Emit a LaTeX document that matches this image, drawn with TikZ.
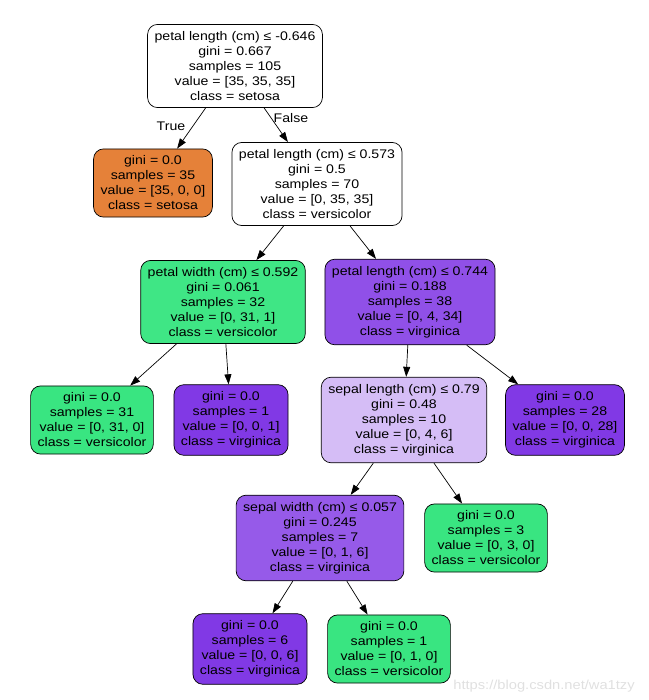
\documentclass[tikz,border=0pt]{standalone}
\usepackage{fontspec}
\setmainfont{Liberation Sans}[FakeStretch=1.13]
\usetikzlibrary{arrows.meta}
\definecolor{setosa}{HTML}{E58139}
\definecolor{versicolor}{HTML}{39E581}
\definecolor{virginica}{HTML}{8139E5}
\definecolor{versicolorA}{HTML}{3FE685}
\definecolor{virginicaA}{HTML}{9050E8}
\definecolor{virginicaB}{HTML}{D5BDF6}
\definecolor{virginicaC}{HTML}{965AE9}
\begin{document}
\begin{tikzpicture}[x=1pt,y=-1pt,
	treenode/.style={draw=black,line width=0.7pt,rounded corners=10pt,align=center,
		font=\fontsize{12.5}{15}\selectfont,inner xsep=7pt,inner ysep=7pt},
	treeedge/.style={-{Triangle[length=10pt,width=7pt]},black,line width=0.7pt},
	edgelabel/.style={font=\fontsize{12.5}{15}\selectfont}]
	\useasboundingbox (0,0) rectangle (648,700);
	\node[treenode,fill=white] (n0) at (235,66) {petal length (cm) ≤ -0.646\\gini = 0.667\\samples = 105\\value = [35, 35, 35]\\class = setosa};
	\node[treenode,fill=setosa] (n1) at (153,183) {gini = 0.0\\samples = 35\\value = [35, 0, 0]\\class = setosa};
	\node[treenode,fill=white] (n2) at (317,184) {petal length (cm) ≤ 0.573\\gini = 0.5\\samples = 70\\value = [0, 35, 35]\\class = versicolor};
	\node[treenode,fill=versicolorA] (n3) at (223,302) {petal width (cm) ≤ 0.592\\gini = 0.061\\samples = 32\\value = [0, 31, 1]\\class = versicolor};
	\node[treenode,fill=virginicaA] (n4) at (410,302) {petal length (cm) ≤ 0.744\\gini = 0.188\\samples = 38\\value = [0, 4, 34]\\class = virginica};
	\node[treenode,fill=versicolor] (n5) at (92,420) {gini = 0.0\\samples = 31\\value = [0, 31, 0]\\class = versicolor};
	\node[treenode,fill=virginica] (n6) at (231,420) {gini = 0.0\\samples = 1\\value = [0, 0, 1]\\class = virginica};
	\node[treenode,fill=virginicaB] (n7) at (404,420) {sepal length (cm) ≤ 0.79\\gini = 0.48\\samples = 10\\value = [0, 4, 6]\\class = virginica};
	\node[treenode,fill=virginica] (n8) at (565,420) {gini = 0.0\\samples = 28\\value = [0, 0, 28]\\class = virginica};
	\node[treenode,fill=virginicaC] (n9) at (320,538) {sepal width (cm) ≤ 0.057\\gini = 0.245\\samples = 7\\value = [0, 1, 6]\\class = virginica};
	\node[treenode,fill=versicolor] (n10) at (486,538) {gini = 0.0\\samples = 3\\value = [0, 3, 0]\\class = versicolor};
	\node[treenode,fill=virginica] (n11) at (250,649) {gini = 0.0\\samples = 6\\value = [0, 0, 6]\\class = virginica};
	\node[treenode,fill=versicolor] (n12) at (389,649) {gini = 0.0\\samples = 1\\value = [0, 1, 0]\\class = versicolor};
	\draw[treeedge] (n0) -- (n1);
	\draw[treeedge] (n0) -- (n2);
	\draw[treeedge] (n2) -- (n3);
	\draw[treeedge] (n2) -- (n4);
	\draw[treeedge] (n3) -- (n5);
	\draw[treeedge] (n3) -- (n6);
	\draw[treeedge] (n4) -- (n7);
	\draw[treeedge] (n4) -- (n8);
	\draw[treeedge] (n7) -- (n9);
	\draw[treeedge] (n7) -- (n10);
	\draw[treeedge] (n9) -- (n11);
	\draw[treeedge] (n9) -- (n12);
	\node[edgelabel] (truelabel) at (171,126) {True};
	\node[edgelabel] (falselabel) at (291,118) {False};
	\node[font=\fontsize{13}{15}\selectfont,text=black!12] (watermark) at (544,686) {https://blog.csdn.net/wa1tzy};
\end{tikzpicture}
\end{document}
